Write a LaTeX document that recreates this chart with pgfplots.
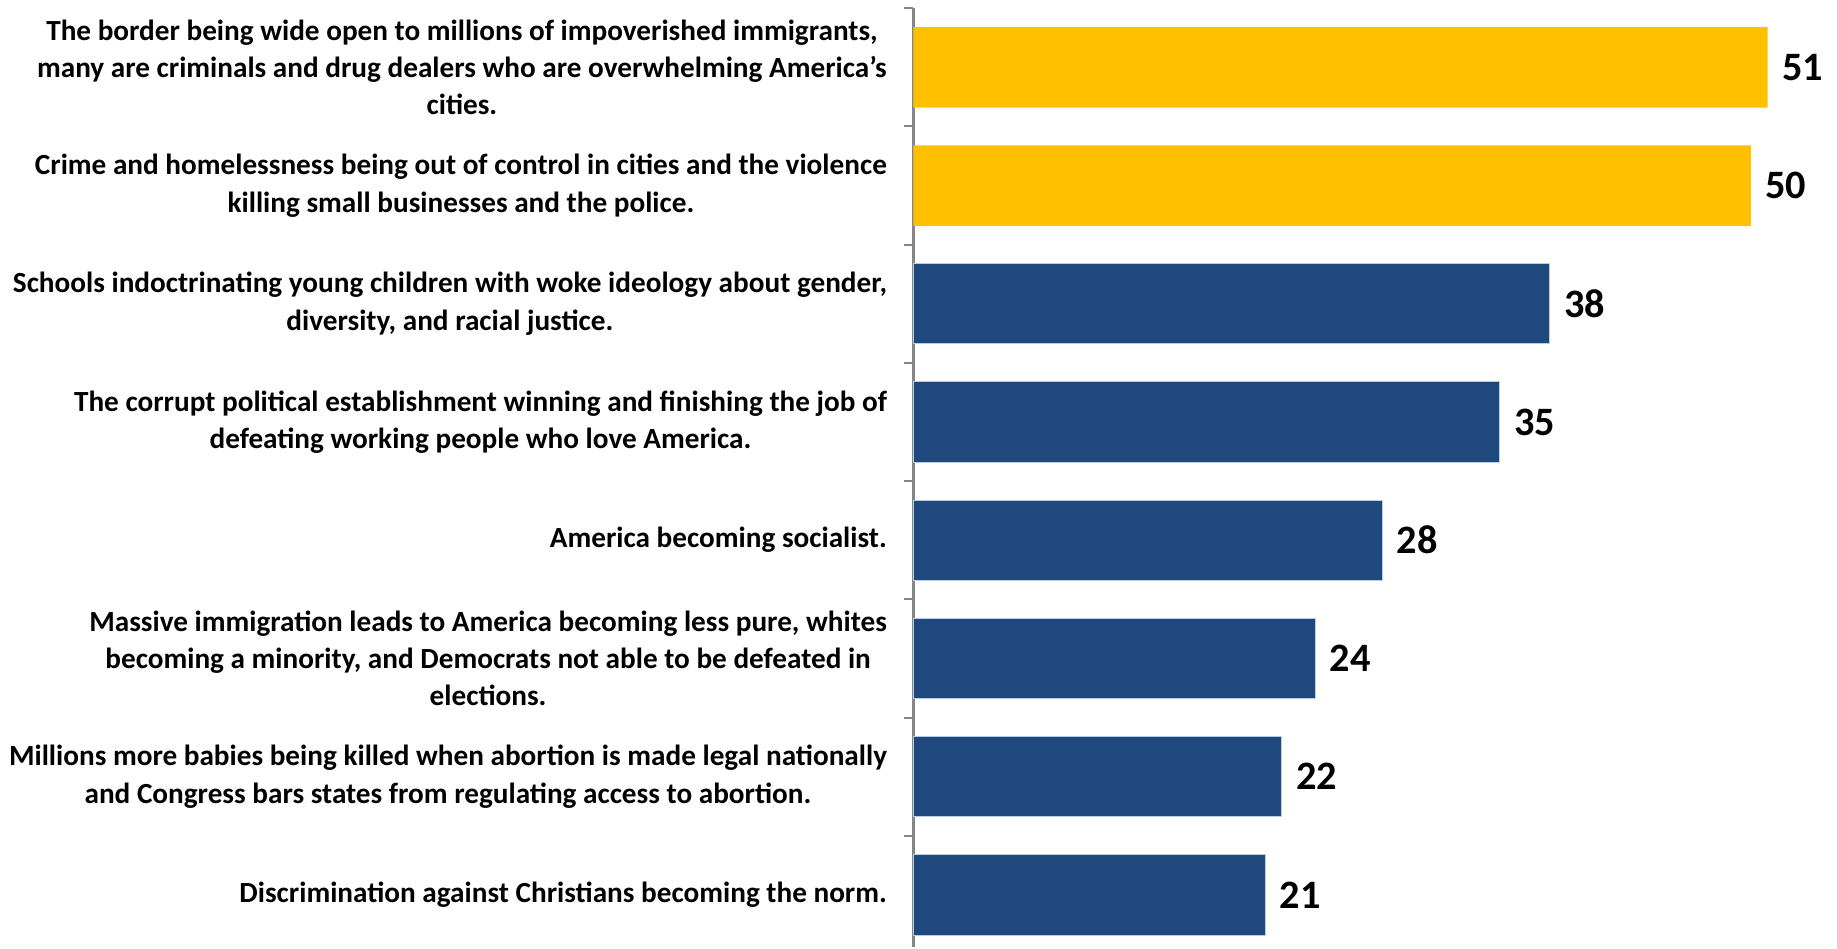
\documentclass[border=0pt]{standalone}
\usepackage{pgfplots}
\pgfplotsset{compat=1.18}
\usepackage{fontspec}
\setmainfont{Carlito}
\definecolor{gold}{HTML}{FFC000}
\definecolor{navy}{HTML}{1F497D}
\definecolor{edge}{HTML}{B9CDE5}
\definecolor{axgray}{HTML}{868686}

\begin{document}
\begin{tikzpicture}
\begin{axis}[
  xbar,
  bar shift=0pt,
  width=457pt, height=465.7pt,
  scale only axis,
  xmin=0, xmax=55,
  ymin=-0.5, ymax=7.44,
  y dir=reverse,
  bar width=0.68,
  axis x line=none,
  axis y line*=left,
  y axis line style={axgray, line width=1.2pt, -},
  ytick={0,...,7},
  yticklabels={
    {The border being wide open to millions of impoverished immigrants,\\many are criminals and drug dealers who are overwhelming America's\\cities.},
    {Crime and homelessness being out of control in cities and the violence\\killing small businesses and the police.},
    {Schools indoctrinating young children with woke ideology about gender,\\diversity, and racial justice.},
    {The corrupt political establishment winning and finishing the job of\\defeating working people who love America.},
    {America becoming socialist.},
    {Massive immigration leads to America becoming less pure, whites\\becoming a minority, and Democrats not able to be defeated in\\elections.},
    {Millions more babies being killed when abortion is made legal nationally\\and Congress bars states from regulating access to abortion.},
    {Discrimination against Christians becoming the norm.}
  },
  major tick length=0pt,
  minor ytick={-0.5,0.5,...,7.5},
  minor tick length=4.5pt,
  tick align=outside,
  ytick pos=left,
  minor tick style={axgray, line width=1pt},
  yticklabel style={align=center, anchor=east, inner xsep=0pt, xshift=-13pt,
    font=\bfseries\fontsize{14.5}{18.5}\selectfont},
  /pgf/number format/assume math mode=true,
  nodes near coords,
  every node near coord/.append style={font=\bfseries\fontsize{20}{24}\selectfont,
    black, anchor=west, inner xsep=7pt},
  clip=false,
]
\addplot[fill=gold, draw=none] coordinates {(51,0) (50,1)};
\addplot[fill=navy, draw=edge, line width=0.5pt] coordinates {(38,2) (35,3) (28,4) (24,5) (22,6) (21,7)};
\end{axis}
\path (current bounding box.north) ++(0,3.5pt);
\path (current bounding box.west) ++(-4.5pt,0);
\end{tikzpicture}
\end{document}
